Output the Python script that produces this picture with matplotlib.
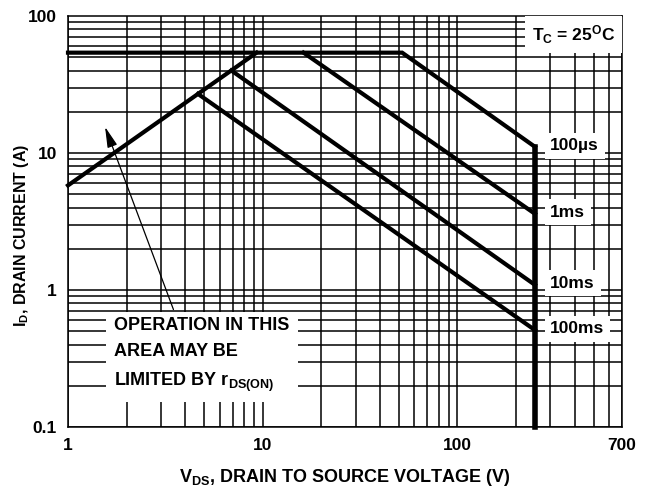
import matplotlib
matplotlib.use('Agg')
import matplotlib.pyplot as plt
from matplotlib.ticker import FixedLocator

plt.rcParams['font.family'] = ['Liberation Sans', 'DejaVu Sans']
plt.rcParams['font.weight'] = 'bold'
plt.rcParams['mathtext.fontset'] = 'custom'
plt.rcParams['mathtext.default'] = 'regular'

# safe operating area curves
limit_v = [1, 52, 250, 250]
limit_i = [54, 54, 11.1, 0.1]
rds_v = [1, 9.3]
rds_i = [5.8, 54]
ms1_v = [16.2, 250]
ms1_i = [54, 3.6]
ms10_v = [6.9, 250]
ms10_i = [40, 1.09]
ms100_v = [4.65, 250]
ms100_i = [27, 0.51]

curve_labels = ['100\u00b5s', '1ms', '10ms', '100ms']
label_i = [11.3, 3.7, 1.12, 0.52]
label_v = 300

x_ticks = [1, 10, 100, 700]
x_ticklabels = ['1', '10', '100', '700']
y_ticks = [0.1, 1, 10, 100]
y_ticklabels = ['0.1', '1', '10', '100']

fig = plt.figure(figsize=(6.49, 4.92), dpi=100)
ax = fig.add_axes([68 / 649, 1 - 427 / 492, 554 / 649, 411 / 492])
ax.set_xscale('log')
ax.set_yscale('log')
ax.set_xlim(1, 700)
ax.set_ylim(0.1, 100)

# grid at every 1..9 of each decade
xg = [m * 10 ** d for d in range(0, 3) for m in range(1, 10) if m * 10 ** d <= 700]
yg = [m * 10 ** d for d in range(-1, 2) for m in range(1, 10)]
for v in xg:
    ax.axvline(v, color='black', lw=1.1, zorder=1)
for v in yg:
    ax.axhline(v, color='black', lw=1.1, zorder=1)

ax.xaxis.set_major_locator(FixedLocator(x_ticks))
ax.xaxis.set_minor_locator(FixedLocator([]))
ax.yaxis.set_major_locator(FixedLocator(y_ticks))
ax.yaxis.set_minor_locator(FixedLocator([]))
ax.set_xticklabels(x_ticklabels)
ax.set_yticklabels(y_ticklabels)
ax.tick_params(length=0, labelsize=12.5, pad=8)
for s in ax.spines.values():
    s.set_linewidth(1.1)

lw = 3.0
ax.plot(limit_v[:3], limit_i[:3], color='black', lw=lw, zorder=5, clip_on=False,
        solid_joinstyle='miter')
ax.plot(limit_v[2:], limit_i[2:], color='black', lw=4.0, zorder=5, clip_on=False)
ax.plot(rds_v, rds_i, color='black', lw=lw, zorder=5, clip_on=False)
ax.plot(ms1_v, ms1_i, color='black', lw=lw, zorder=5)
ax.plot(ms10_v, ms10_i, color='black', lw=lw, zorder=5)
ax.plot(ms100_v, ms100_i, color='black', lw=lw, zorder=5)

box = dict(facecolor='white', edgecolor='none', pad=4)
for lab, yi in zip(curve_labels, label_i):
    ax.text(label_v, yi, lab, fontsize=12.5, fontweight='bold', ha='left', va='center',
            bbox=box, zorder=4)

ax.text(0.988, 0.982, '$T_C$ = 25$^O$C', transform=ax.transAxes, fontsize=12.5,
        fontweight='bold', ha='right', va='top', zorder=4,
        bbox=dict(facecolor='white', edgecolor='none', pad=5))

ax.text(1.72, 0.335, 'OPERATION IN THIS\nAREA MAY BE\nLIMITED BY $r_{DS(ON)}$',
        fontsize=13, fontweight='bold', ha='left', va='center', linespacing=1.7,
        zorder=4, bbox=dict(facecolor='white', edgecolor='none', pad=6))

ax.annotate('', xy=(1.55, 15.5), xytext=(3.48, 0.72),
            arrowprops=dict(arrowstyle='-|>,head_length=0.9,head_width=0.22',
                            color='black', lw=0.9, mutation_scale=14,
                            shrinkA=0, shrinkB=0), zorder=6)

ax.set_xlabel('$V_{DS}$, DRAIN TO SOURCE VOLTAGE (V)', fontsize=13, fontweight='bold',
              labelpad=10)
ax.set_ylabel('$I_D$, DRAIN CURRENT (A)', fontsize=11.5, fontweight='bold')
ax.yaxis.set_label_coords(-0.066, 0.465)

fig.savefig('out.png', dpi=100)
